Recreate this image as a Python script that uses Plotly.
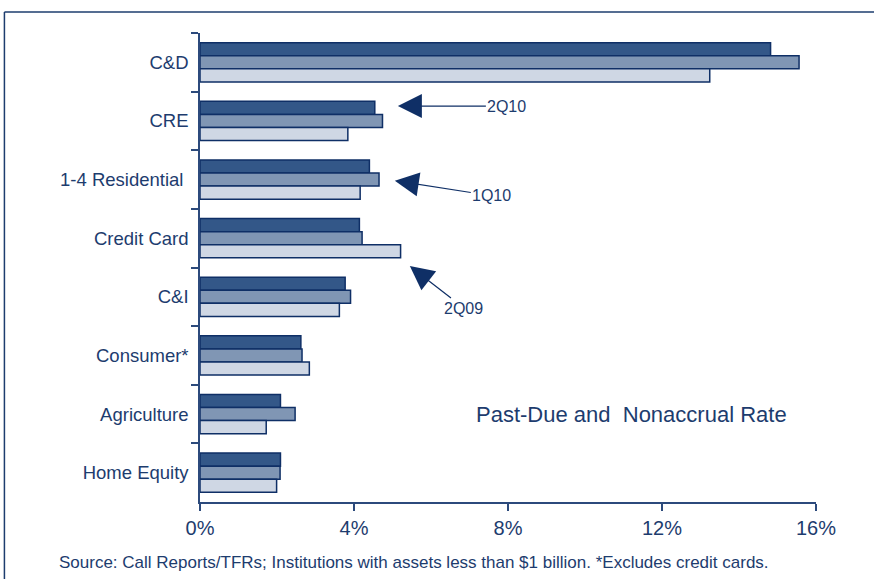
import plotly.graph_objects as go

# 贷款类别（自上而下）
categories = ["C&D", "CRE", "1-4 Residential ", "Credit Card", "C&I",
              "Consumer*", "Agriculture", "Home Equity"]

# 逾期及非应计率 (%)
rate_2q10 = [14.82, 4.54, 4.40, 4.14, 3.77, 2.62, 2.09, 2.09]
rate_1q10 = [15.56, 4.74, 4.65, 4.21, 3.91, 2.65, 2.47, 2.08]
rate_2q09 = [13.24, 3.84, 4.16, 5.21, 3.62, 2.84, 1.72, 1.99]

x_ticks = [0, 4, 8, 12, 16]
x_tick_labels = ["0%", "4%", "8%", "12%", "16%"]

NAVY = "#1d3c6e"
OUTLINE = "#0f2f66"
AXIS = "#2c4a7c"
FONT = "Liberation Sans, Arial, sans-serif"

fig = go.Figure()

series = [
    ("2Q10", rate_2q10, "#335788"),
    ("1Q10", rate_1q10, "#8096b4"),
    ("2Q09", rate_2q09, "#cfd7e4"),
]
for name, vals, color in series:
    fig.add_trace(go.Bar(
        y=categories,
        x=vals,
        orientation="h",
        name=name,
        marker=dict(color=color, line=dict(color=OUTLINE, width=1.5)),
    ))

# 箭头标注
arrows = [
    ("2Q10", rate_1q10[1] + 0.40, 1 - 0.254, 109, 0),
    ("1Q10", rate_1q10[2] + 0.41, 2 + 0.02, 97, 15),
    ("2Q09", rate_2q09[3] + 0.24, 3 + 0.476, 54, 42),
]
for text, x, y, ax, ay in arrows:
    fig.add_annotation(
        x=x, y=y, xref="x", yref="y",
        ax=ax, ay=ay,
        text=text, showarrow=True,
        arrowhead=2, arrowwidth=1.2, arrowsize=4.0, arrowcolor=OUTLINE,
        font=dict(family=FONT, size=16, color=NAVY),
    )

fig.add_annotation(
    x=0.70, y=0.187, xref="paper", yref="paper",
    text="Past-Due and  Nonaccrual Rate", showarrow=False,
    xanchor="center", yanchor="middle",
    font=dict(family=FONT, size=22, color=NAVY),
)
fig.add_annotation(
    x=-0.232, y=-0.129, xref="paper", yref="paper",
    text="Source: Call Reports/TFRs; Institutions with assets less than $1 billion. *Excludes credit cards.",
    showarrow=False, xanchor="left", yanchor="middle",
    font=dict(family=FONT, size=17, color=NAVY),
)

# 外框（上边和左边）
fig.add_shape(type="line", xref="paper", yref="paper",
              x0=-0.3175, x1=1.2, y0=1.0448, y1=1.0448,
              line=dict(color=NAVY, width=1.5))
fig.add_shape(type="line", xref="paper", yref="paper",
              x0=-0.3175, x1=-0.3175, y0=-0.3, y1=1.0448,
              line=dict(color=NAVY, width=1.5))

fig.update_layout(
    width=874, height=579,
    margin=dict(l=200, r=58, t=33, b=77),
    barmode="group", bargap=0.33, bargroupgap=0,
    plot_bgcolor="white", paper_bgcolor="white",
    showlegend=False,
    font=dict(family=FONT, size=18, color=NAVY),
    xaxis=dict(
        range=[0, 16], tickvals=x_ticks, ticktext=x_tick_labels,
        showgrid=False, zeroline=False,
        showline=True, linecolor=AXIS, linewidth=1.5,
        ticks="outside", ticklen=7, tickcolor=AXIS, tickwidth=1.5,
        tickfont=dict(family=FONT, size=20, color=NAVY),
    ),
    yaxis=dict(
        autorange="reversed", showgrid=False, zeroline=False,
        showline=True, linecolor=AXIS, linewidth=1.5,
        ticks="outside", ticklen=7, tickcolor=AXIS, tickwidth=1.5,
        tickson="boundaries", ticklabelstandoff=6,
        tickfont=dict(family=FONT, size=18.5, color=NAVY),
    ),
)

fig.write_html("out.html", config={"displayModeBar": False},
               post_script="document.body.style.margin='0';")
